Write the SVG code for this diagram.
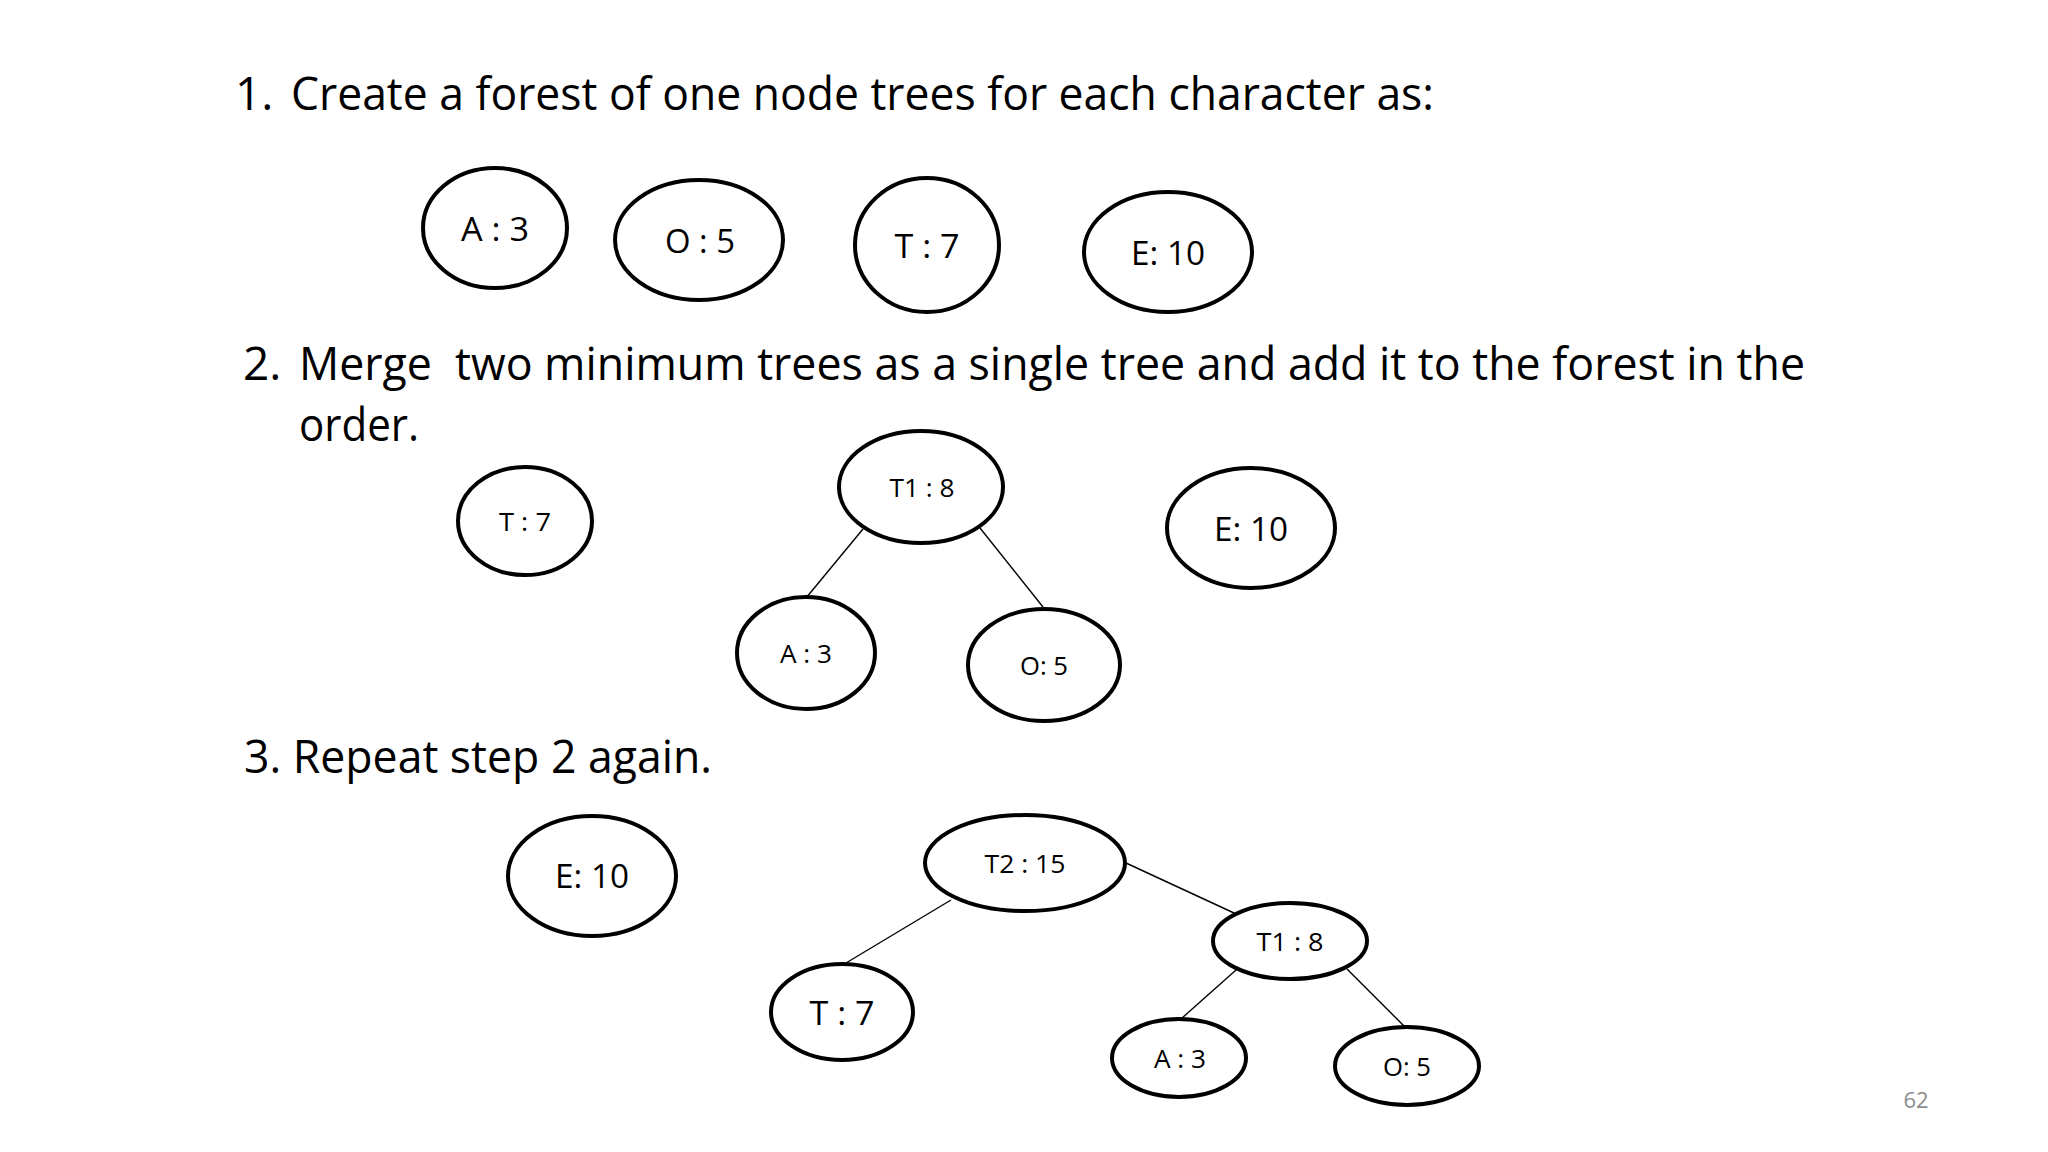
<svg xmlns="http://www.w3.org/2000/svg" width="2048" height="1152" viewBox="0 0 2048 1152">
<style>
.title{font-family:"Open Sans","Liberation Sans",sans-serif;font-size:46px;fill:#000}
.node ellipse{fill:#fff;stroke:#000;stroke-width:4}
.lbl{font-family:"Open Sans","Liberation Sans",sans-serif;fill:#000;text-anchor:middle}
.big{font-size:32px}
.sm{font-size:26px}
.edges line{stroke:#000;stroke-width:1.4}
.pg{font-family:"Open Sans","Liberation Sans",sans-serif;font-size:22px;fill:#8c8c8c;text-anchor:middle}
</style>
<rect width="2048" height="1152" fill="#fff"/>
<text class="title" x="235" y="110">1.</text>
<text class="title" x="291" y="110" textLength="1143" lengthAdjust="spacingAndGlyphs">Create a forest of one node trees for each character as:</text>
<text class="title" x="243" y="380">2.</text>
<text class="title" x="299" y="380" textLength="1506" lengthAdjust="spacingAndGlyphs">Merge &#160;two minimum trees as a single tree and add it to the forest in the</text>
<text class="title" x="299" y="441" textLength="120" lengthAdjust="spacingAndGlyphs">order.</text>
<text class="title" x="244" y="773" textLength="468" lengthAdjust="spacingAndGlyphs">3. Repeat step 2 again.</text>

<g class="edges">
<line x1="863" y1="529" x2="806" y2="598"/>
<line x1="980" y1="528" x2="1043" y2="607"/>
<line x1="951" y1="900" x2="846" y2="963"/>
<line x1="1126" y1="863" x2="1234" y2="913"/>
<line x1="1236" y1="970" x2="1182" y2="1018"/>
<line x1="1347" y1="969" x2="1404" y2="1026"/>
</g>

<g id="s1-a3" class="node"><ellipse cx="495" cy="228" rx="72" ry="60"/><text class="lbl big" x="495" y="241" textLength="68" lengthAdjust="spacingAndGlyphs">A : 3</text></g>
<g id="s1-o5" class="node"><ellipse cx="699" cy="240" rx="84" ry="60"/><text class="lbl big" x="700" y="253" textLength="70" lengthAdjust="spacingAndGlyphs">O : 5</text></g>
<g id="s1-t7" class="node"><ellipse cx="927" cy="245" rx="72" ry="67"/><text class="lbl big" x="927" y="258" textLength="65" lengthAdjust="spacingAndGlyphs">T : 7</text></g>
<g id="s1-e10" class="node"><ellipse cx="1168" cy="252" rx="84" ry="60"/><text class="lbl big" x="1168" y="265" textLength="74" lengthAdjust="spacingAndGlyphs">E: 10</text></g>

<g id="s2-t7" class="node"><ellipse cx="525" cy="521" rx="67" ry="54"/><text class="lbl sm" x="525" y="531" textLength="52" lengthAdjust="spacingAndGlyphs">T : 7</text></g>
<g id="s2-t1" class="node"><ellipse cx="921" cy="487" rx="82" ry="56"/><text class="lbl sm" x="922" y="497" textLength="65" lengthAdjust="spacingAndGlyphs">T1 : 8</text></g>
<g id="s2-e10" class="node"><ellipse cx="1251" cy="528" rx="84" ry="60"/><text class="lbl big" x="1251" y="541" textLength="74" lengthAdjust="spacingAndGlyphs">E: 10</text></g>
<g id="s2-a3" class="node"><ellipse cx="806" cy="653" rx="69" ry="56"/><text class="lbl sm" x="806" y="663" textLength="52" lengthAdjust="spacingAndGlyphs">A : 3</text></g>
<g id="s2-o5" class="node"><ellipse cx="1044" cy="665" rx="76" ry="56"/><text class="lbl sm" x="1044" y="675" textLength="48" lengthAdjust="spacingAndGlyphs">O: 5</text></g>

<g id="s3-e10" class="node"><ellipse cx="592" cy="876" rx="84" ry="60"/><text class="lbl big" x="592" y="888" textLength="74" lengthAdjust="spacingAndGlyphs">E: 10</text></g>
<g id="s3-t2" class="node"><ellipse cx="1025" cy="863" rx="100" ry="48"/><text class="lbl sm" x="1025" y="873" textLength="81" lengthAdjust="spacingAndGlyphs">T2 : 15</text></g>
<g id="s3-t1" class="node"><ellipse cx="1290" cy="941" rx="77" ry="38"/><text class="lbl sm" x="1290" y="951" textLength="67" lengthAdjust="spacingAndGlyphs">T1 : 8</text></g>
<g id="s3-t7" class="node"><ellipse cx="842" cy="1012" rx="71" ry="48"/><text class="lbl big" x="842" y="1025" textLength="65" lengthAdjust="spacingAndGlyphs">T : 7</text></g>
<g id="s3-a3" class="node"><ellipse cx="1179" cy="1058" rx="67" ry="39"/><text class="lbl sm" x="1180" y="1068" textLength="52" lengthAdjust="spacingAndGlyphs">A : 3</text></g>
<g id="s3-o5" class="node"><ellipse cx="1407" cy="1066" rx="72" ry="39"/><text class="lbl sm" x="1407" y="1076" textLength="48" lengthAdjust="spacingAndGlyphs">O: 5</text></g>

<text class="pg" x="1916" y="1108">62</text>
</svg>
